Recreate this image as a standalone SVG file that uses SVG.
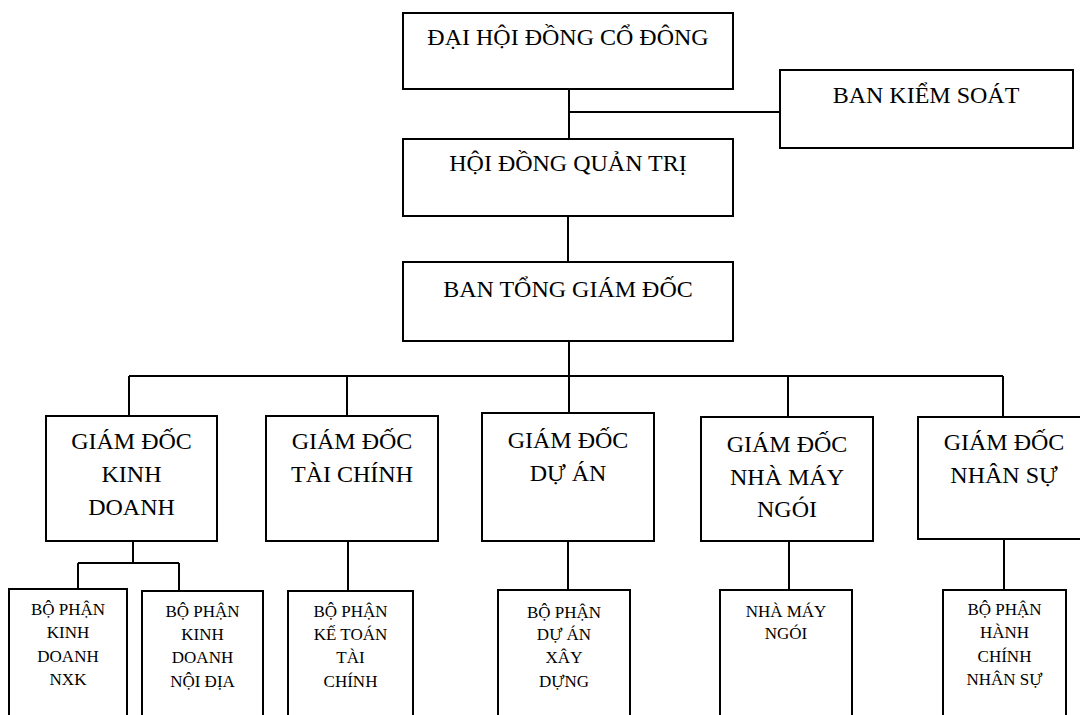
<svg xmlns="http://www.w3.org/2000/svg" width="1080" height="715" viewBox="0 0 1080 715">
<style>
.box{fill:#fff;stroke:#000;stroke-width:2}
.ln{fill:none;stroke:#000;stroke-width:2}
.t{font-family:"Liberation Serif","Times New Roman",serif;font-size:24px;fill:#000;text-anchor:middle}
.s{font-family:"Liberation Serif","Times New Roman",serif;font-size:17px;fill:#000;text-anchor:middle}
</style>
<rect width="1080" height="715" fill="#fff"/>
<g id="connectors">
<path class="ln" d="M569,89V139M569,112H780"/>
<path class="ln" d="M568,216V262"/>
<path class="ln" d="M569,341V413M129,376H1003M129,376V416M347,376V416M788,376V417M1003,376V417"/>
<path class="ln" d="M133,541V563M78,563H179M78,563V589M179,563V591"/>
<path class="ln" d="M348,541V591M568,541V590M789,541V590M1004,539V590"/>
</g>
<g id="dhdcd"><rect class="box" x="403" y="13" width="330" height="76"/><text class="t" x="568" y="45">ĐẠI HỘI ĐỒNG CỔ ĐÔNG</text></g>
<g id="bks"><rect class="box" x="780" y="70" width="293" height="78"/><text class="t" x="926" y="103">BAN KIỂM SOÁT</text></g>
<g id="hdqt"><rect class="box" x="403" y="139" width="330" height="77"/><text class="t" x="568" y="171">HỘI ĐỒNG QUẢN TRỊ</text></g>
<g id="btgd"><rect class="box" x="403" y="262" width="330" height="79"/><text class="t" x="568" y="297">BAN TỔNG GIÁM ĐỐC</text></g>
<g id="gdkd"><rect class="box" x="46" y="416" width="171" height="125"/><text class="t" x="131.5" y="449">GIÁM ĐỐC</text><text class="t" x="131.5" y="482">KINH</text><text class="t" x="131.5" y="515">DOANH</text></g>
<g id="gdtc"><rect class="box" x="266" y="416" width="172" height="125"/><text class="t" x="352" y="449">GIÁM ĐỐC</text><text class="t" x="352" y="482">TÀI CHÍNH</text></g>
<g id="gdda"><rect class="box" x="482" y="413" width="172" height="128"/><text class="t" x="568" y="448">GIÁM ĐỐC</text><text class="t" x="568" y="481">DỰ ÁN</text></g>
<g id="gdnmn"><rect class="box" x="701" y="417" width="172" height="124"/><text class="t" x="787" y="452">GIÁM ĐỐC</text><text class="t" x="787" y="485">NHÀ MÁY</text><text class="t" x="787" y="517">NGÓI</text></g>
<g id="gdns"><rect class="box" x="918" y="417" width="172" height="122"/><text class="t" x="1004" y="450">GIÁM ĐỐC</text><text class="t" x="1004" y="483">NHÂN SỰ</text></g>
<g id="bpkdnxk"><rect class="box" x="9" y="589" width="118" height="140"/><text class="s" x="68" y="615">BỘ PHẬN</text><text class="s" x="68" y="638">KINH</text><text class="s" x="68" y="662">DOANH</text><text class="s" x="68" y="685">NXK</text></g>
<g id="bpkdnd"><rect class="box" x="142" y="591" width="121" height="140"/><text class="s" x="202.5" y="617">BỘ PHẬN</text><text class="s" x="202.5" y="640">KINH</text><text class="s" x="202.5" y="663">DOANH</text><text class="s" x="202.5" y="687">NỘI ĐỊA</text></g>
<g id="bpkt"><rect class="box" x="288" y="591" width="125" height="140"/><text class="s" x="350.5" y="617">BỘ PHẬN</text><text class="s" x="350.5" y="640">KẾ TOÁN</text><text class="s" x="350.5" y="663">TÀI</text><text class="s" x="350.5" y="687">CHÍNH</text></g>
<g id="bpda"><rect class="box" x="498" y="590" width="132" height="140"/><text class="s" x="564" y="618">BỘ PHẬN</text><text class="s" x="564" y="640">DỰ ÁN</text><text class="s" x="564" y="663">XÂY</text><text class="s" x="564" y="687">DỰNG</text></g>
<g id="nmn"><rect class="box" x="720" y="590" width="132" height="140"/><text class="s" x="786" y="617">NHÀ MÁY</text><text class="s" x="786" y="639">NGÓI</text></g>
<g id="bphcns"><rect class="box" x="943" y="590" width="123" height="140"/><text class="s" x="1004.5" y="615">BỘ PHẬN</text><text class="s" x="1004.5" y="638">HÀNH</text><text class="s" x="1004.5" y="662">CHÍNH</text><text class="s" x="1004.5" y="685">NHÂN SỰ</text></g>
</svg>
